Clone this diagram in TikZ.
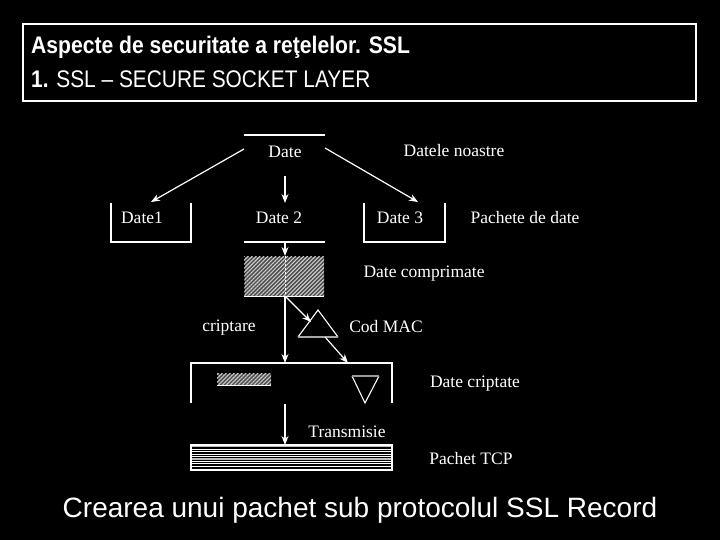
\documentclass[tikz,border=0pt]{standalone}
\usepackage{fontspec}
\setmainfont{Liberation Serif}
\newfontfamily\arial{Liberation Sans}
\usetikzlibrary{arrows.meta,patterns.meta}

\begin{document}
\begin{tikzpicture}[x=1pt,y=-1pt,
  wl/.style={draw=white,line width=1.2pt},
  arr/.style={draw=white,line width=1.2pt,-{Stealth[length=9pt,width=7pt]}},
  lbl/.style={text=white,font=\fontsize{17.5}{20}\selectfont,inner sep=0pt,anchor=base},
  hatch/.style={fill=black!70,postaction={pattern={Lines[angle=45,distance=2.8pt,line width=1.1pt]},pattern color=white!80!black}},
  stripe/.style={draw=white,line width=1pt},
  gstripe/.style={draw=white!75!black,line width=1.6pt}
]
\fill[black] (0,0) rectangle (720,540);
\useasboundingbox (0,0) rectangle (720,540);

% title box
\draw[white,line width=2pt] (23,24) rectangle (696,101);
\node[anchor=base west,inner sep=0pt,text=white] (t1) at (31,54)
  {\scalebox{0.88}[1]{\arial\fontsize{24}{28}\selectfont\bfseries Aspecte de securitate a reţelelor. SSL}};
\node[anchor=base west,inner sep=0pt,text=white] (t2) at (31,88)
  {\scalebox{0.87}[1]{\arial\fontsize{24}{28}\selectfont\textbf{1.} SSL – SECURE SOCKET LAYER}};

% caption
\node[anchor=base,inner sep=0pt,text=white] (cap) at (360,517)
  {\arial\fontsize{28}{32}\selectfont Crearea unui pachet sub protocolul SSL Record};

% top level
\draw[wl] (244,135) -- (325,135);
\node[lbl] (date) at (285,158) {Date};
\node[lbl] (noastre) at (454,157) {Datele noastre};
\coordinate (dl) at (244,149);
\coordinate (dr) at (325,148);
\coordinate (dd) at (285,176);

% second level
\draw[wl] (111,203) -- (111,242) -- (191,242) -- (191,203);
\node[lbl] (d1) at (142,224) {Date1};
\node[lbl] (d2) at (279,224) {Date 2};
\draw[wl] (244,242) -- (325,242);
\draw[wl] (364,203) -- (364,242) -- (445,242) -- (445,203);
\node[lbl] (d3) at (400,224) {Date 3};
\node[lbl] (pachete) at (525,224) {Pachete de date};
\coordinate (t1c) at (151,202);
\coordinate (t2c) at (285,203);
\coordinate (t3c) at (418,202);

\draw[arr] (dl) -- (t1c);
\draw[arr] (dd) -- (t2c);
\draw[arr] (dr) -- (t3c);

% compressed
\coordinate (c2b) at (285,242);
\coordinate (comptop) at (285,256);
\draw[hatch] (244,256) rectangle (324,296);
\draw[white,line width=1pt] (244,296) -- (324,296);
\draw[white,line width=0.8pt,dash pattern=on 2pt off 2pt] (285,256) -- (285,296);
\draw[arr] (c2b) -- (comptop);
\node[lbl] (comp) at (424,277) {Date comprimate};

% MAC
\coordinate (compbot) at (285,296);
\coordinate (macin) at (311,322);
\coordinate (macout) at (325,337);
\draw[white,line width=1.1pt] (298,337) -- (318,310) -- (338,337);
\draw[white!65!black,line width=1.4pt] (298,337) -- (338,337);
\draw[arr] (compbot) -- (macin);
\node[lbl] (cript) at (229,331) {criptare};
\node[lbl] (mac) at (386,332) {Cod MAC};

% encrypted
\coordinate (enc1) at (285,363);
\coordinate (enc2) at (348,363);
\draw[arr] (compbot) -- (enc1);
\draw[arr] (macout) -- (enc2);
\draw[wl] (191,403) -- (191,363) -- (392,363) -- (392,403);
\draw[hatch] (217,373) rectangle (271,385);
\draw[white,line width=1pt] (217,385) -- (271,385);
\draw[white,line width=1.1pt] (352,376) -- (365,403) -- (379,376);
\draw[white!60!black,line width=1.3pt] (352,376) -- (379,376);
\node[lbl] (crip) at (475,387) {Date criptate};

% transmission
\coordinate (encbot) at (285,404);
\coordinate (tcptop) at (285,445);
\draw[arr] (encbot) -- (tcptop);
\node[lbl] (trans) at (347,437) {Transmisie};

% TCP packet
\fill[black] (191,445) rectangle (392,470);
\draw[gstripe] (191,446.5) -- (392,446.5);
\foreach \yy in {449.5,451.8,454.1,456.4,461.6,463.9,466.2}
  \draw[stripe] (192,\yy) -- (391,\yy);
\draw[gstripe] (191,459) -- (392,459);
\draw[white,line width=1.2pt] (191,445) rectangle (392,470);
\node[lbl] (tcp) at (471,464) {Pachet TCP};
\end{tikzpicture}
\end{document}
